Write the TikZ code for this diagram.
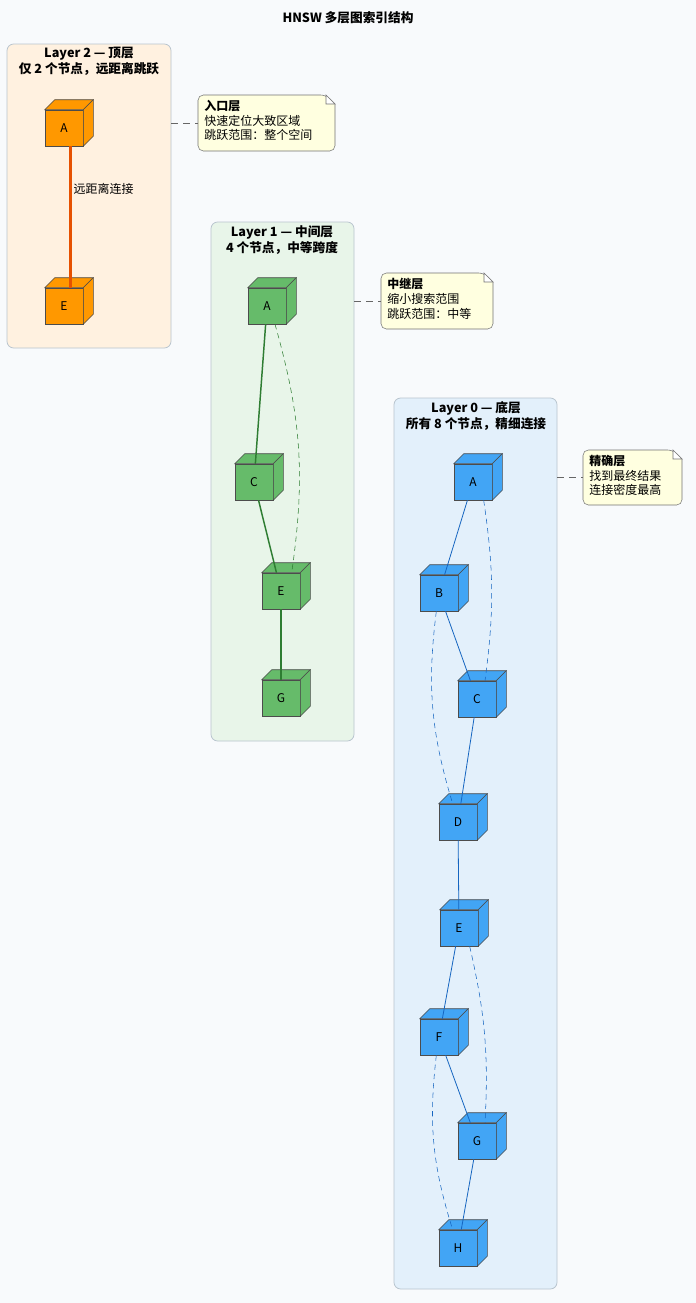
\documentclass[tikz,border=0pt]{standalone}
\usepackage{fontspec}
\setmainfont{Noto Sans CJK SC}
\usetikzlibrary{positioning}
\definecolor{bgc}{HTML}{F8FAFC}
\definecolor{frameline}{HTML}{B8C4CE}
\definecolor{orfill}{HTML}{FF9800}
\definecolor{oredge}{HTML}{E65100}
\definecolor{orbg}{HTML}{FFF1E0}
\definecolor{grfill}{HTML}{66BB6A}
\definecolor{gredge}{HTML}{2E7D32}
\definecolor{grbg}{HTML}{E8F5E9}
\definecolor{blfill}{HTML}{42A5F5}
\definecolor{bledge}{HTML}{1565C0}
\definecolor{blbg}{HTML}{E3F0FB}
\definecolor{notefill}{HTML}{FFFFE0}
\tikzset{
  layerbox/.style={draw=frameline, rounded corners=5pt, line width=0.6pt},
  cubebox/.style={draw=black!70, minimum width=28.5pt, minimum height=27pt, inner sep=0pt, font=\fontsize{9}{10}\selectfont},
  titletext/.style={font=\bfseries\fontsize{9.5}{12}\selectfont, align=center},
  notetext/.style={font=\fontsize{9}{11}\selectfont, align=left, anchor=north west, inner sep=0pt},
  notebody/.style={draw=black!55, fill=notefill, rounded corners=4pt},
  notelink/.style={draw=black!60, dash pattern=on 5pt off 4pt},
  weak/.style={dash pattern=on 4pt off 3pt},
}
\begin{document}
\begin{tikzpicture}[x=0.75pt, y=-0.75pt]
  \fill[bgc] (0,0) rectangle (696,1303);
  \useasboundingbox (0,0) rectangle (696,1303);
  \node[titletext] (title) at (348,18) {HNSW 多层图索引结构};

  \draw[layerbox, fill=orbg] (7,44) rectangle (171,348);
  \node[titletext] (t2) at (89,61) {Layer 2 — 顶层\\仅 2 个节点，远距离跳跃};
  \draw[layerbox, fill=grbg] (211,222) rectangle (354,741);
  \node[titletext] (t1) at (282,240) {Layer 1 — 中间层\\4 个节点，中等跨度};
  \draw[layerbox, fill=blbg] (394,398) rectangle (557,1289);
  \node[titletext] (t0) at (476,416) {Layer 0 — 底层\\所有 8 个节点，精细连接};

  \foreach \n/\x/\y/\c/\t in {tA/64/128/orfill/A, tE/64/306/orfill/E,
      mA/267/306/grfill/A, mC/254/482/grfill/C, mE/281/591/grfill/E, mG/281/698/grfill/G,
      bA/473/482/blfill/A, bB/439/593/blfill/B, bC/477/699/blfill/C, bD/458/822/blfill/D,
      bE/459/928/blfill/E, bF/439/1037/blfill/F, bG/477/1141/blfill/G, bH/458/1248/blfill/H} {
    \node[cubebox, fill=\c] (\n) at (\x,\y) {\t};
    \draw[draw=black!70, fill=\c] (\n.north west) -- ++(7.5pt,7.5pt) -- ([shift={(7.5pt,7.5pt)}]\n.north east) -- (\n.north east) -- cycle;
    \draw[draw=black!70, fill=\c] (\n.north east) -- ++(7.5pt,7.5pt) -- ([shift={(7.5pt,7.5pt)}]\n.south east) -- (\n.south east) -- cycle;
  }

  \draw[oredge, line width=1.8pt] ([xshift=5pt]tA.south) -- ([xshift=5pt]tE.north);
  \node[font=\fontsize{9}{10}\selectfont, anchor=west] (lbl) at (69,189) {远距离连接};

  \draw[gredge, line width=1.1pt] (mA) -- (mC);
  \draw[gredge, line width=1.1pt] (mC) -- (mE);
  \draw[gredge, line width=1.1pt] (mE) -- (mG);
  \draw[gredge, weak] ([xshift=6pt]mA.south) to[bend left=12] ([xshift=8pt]mE.north);

  \foreach \a/\b in {bA/bB, bB/bC, bC/bD, bD/bE, bE/bF, bF/bG, bG/bH}
    \draw[bledge, line width=0.6pt] (\a) -- (\b);
  \foreach \a/\b in {bA/bC, bE/bG}
    \draw[bledge, weak] ([xshift=8pt]\a.south) to[bend left=8] ([xshift=6pt]\b.north);
  \foreach \a/\b in {bB/bD, bF/bH}
    \draw[bledge, weak] ([xshift=-2pt]\a.south) to[bend right=12] ([xshift=-4pt]\b.north);

  \draw[notebody] (198,95) -- (326,95) [sharp corners] -- (335,104) [rounded corners=4pt] -- (335,151) -- (198,151) -- cycle;
  \draw[draw=black!55, fill=white] (326,95) -- (326,104) -- (335,104) -- cycle;
  \node[notetext] (n2) at (204,100) {\textbf{入口层}\\快速定位大致区域\\跳跃范围：整个空间};
  \draw[notebody] (381,273) -- (484,273) [sharp corners] -- (493,282) [rounded corners=4pt] -- (493,329) -- (381,329) -- cycle;
  \draw[draw=black!55, fill=white] (484,273) -- (484,282) -- (493,282) -- cycle;
  \node[notetext] (n1) at (387,278) {\textbf{中继层}\\缩小搜索范围\\跳跃范围：中等};
  \draw[notebody] (583,450) -- (673,450) [sharp corners] -- (682,459) [rounded corners=4pt] -- (682,505) -- (583,505) -- cycle;
  \draw[draw=black!55, fill=white] (673,450) -- (673,459) -- (682,459) -- cycle;
  \node[notetext] (n0) at (589,455) {\textbf{精确层}\\找到最终结果\\连接密度最高};

  \coordinate (c2) at (171,123);
  \coordinate (c1) at (354,301);
  \coordinate (c0) at (557,477);
  \draw[notelink] (c2) -- (198,123);
  \draw[notelink] (c1) -- (381,301);
  \draw[notelink] (c0) -- (583,477);
\end{tikzpicture}
\end{document}
